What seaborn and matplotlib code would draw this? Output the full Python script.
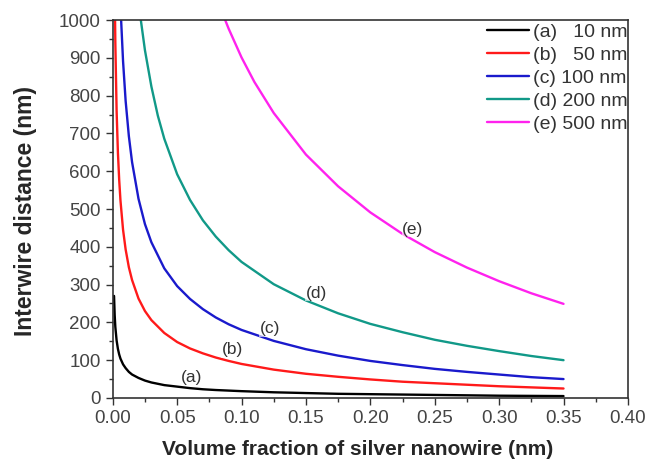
import matplotlib
matplotlib.use("Agg")
import matplotlib.pyplot as plt
from matplotlib.ticker import MultipleLocator
import seaborn as sns
import pandas as pd

# values (nm vs volume fraction)
x_a = [0.001, 0.0015, 0.002, 0.003, 0.004, 0.005, 0.006, 0.008, 0.01, 0.0125, 0.015, 0.02,
       0.025, 0.03, 0.04, 0.05, 0.06, 0.07, 0.08, 0.09, 0.1, 0.125, 0.15, 0.175, 0.2,
       0.225, 0.25, 0.275, 0.3, 0.325, 0.35]
y_a = [270, 219, 188, 152, 130, 115, 104, 89, 79, 69, 62, 53,
       46, 41, 34, 30, 26, 23, 21, 19.5, 18, 15, 13, 11, 10,
       9, 8, 7, 6, 5.5, 5]

x_b = [0.0018, 0.002, 0.003, 0.004, 0.005, 0.006, 0.008, 0.01, 0.0125, 0.015, 0.02,
       0.025, 0.03, 0.04, 0.05, 0.06, 0.07, 0.08, 0.09, 0.1, 0.125, 0.15, 0.175, 0.2,
       0.225, 0.25, 0.275, 0.3, 0.325, 0.35]
y_b = [1000, 941, 759, 650, 577, 522, 445, 393, 346, 312, 263,
       230, 206, 172, 148, 131, 118, 107, 98, 90, 75, 64, 56, 49,
       43, 39, 35, 31, 28, 25]

x_c = [0.0065, 0.008, 0.01, 0.0125, 0.015, 0.02, 0.025, 0.03, 0.04, 0.05, 0.06, 0.07,
       0.08, 0.09, 0.1, 0.125, 0.15, 0.175, 0.2, 0.225, 0.25, 0.275, 0.3, 0.325, 0.35]
y_c = [1000, 891, 786, 693, 624, 527, 460, 412, 343, 296, 262, 235,
       213, 195, 180, 151, 129, 112, 98, 87, 77, 69, 62, 55, 50]

x_d = [0.0218, 0.025, 0.03, 0.035, 0.04, 0.05, 0.06, 0.07, 0.08, 0.09, 0.1, 0.125,
       0.15, 0.175, 0.2, 0.225, 0.25, 0.275, 0.3, 0.325, 0.35]
y_d = [1000, 920, 824, 747, 686, 592, 524, 470, 427, 391, 360, 301,
       258, 224, 196, 174, 154, 138, 124, 111, 100]

x_e = [0.0873, 0.09, 0.1, 0.11, 0.125, 0.15, 0.175, 0.2, 0.225, 0.25, 0.275, 0.3, 0.325, 0.35]
y_e = [1000, 977, 901, 836, 754, 644, 560, 491, 434, 386, 345, 309, 277, 249]

labels = ["(a)   10 nm", "(b)   50 nm", "(c) 100 nm", "(d) 200 nm", "(e) 500 nm"]
tags = ["(a)", "(b)", "(c)", "(d)", "(e)"]
colors = ["#000000", "#ff1a1a", "#1a1acc", "#119988", "#ff22ee"]
tag_x = [0.061, 0.093, 0.122, 0.158, 0.233]
tag_y = [55, 127, 183, 277, 447]

sns.set_style("ticks")
plt.rcParams["font.family"] = ["Liberation Sans", "DejaVu Sans"]

fig = plt.figure(figsize=(6.48, 4.66), dpi=100)
ax = fig.add_axes([0.174, 0.146, 0.795, 0.811])

series = [(x_a, y_a), (x_b, y_b), (x_c, y_c), (x_d, y_d), (x_e, y_e)]
for i, (xs, ys) in enumerate(series):
    df = pd.DataFrame({"x": xs, "y": ys})
    sns.lineplot(data=df, x="x", y="y", ax=ax, color=colors[i], linewidth=1.7,
                 label=labels[i], sort=True)

for i in range(5):
    ax.text(tag_x[i], tag_y[i], tags[i], ha="center", va="center", fontsize=12.5,
            color="#333333", bbox=dict(facecolor="white", edgecolor="none", pad=0.5, alpha=0.6))

ax.set_xlim(0, 0.40)
ax.set_ylim(0, 1000)
ax.xaxis.set_major_locator(MultipleLocator(0.05))
ax.xaxis.set_minor_locator(MultipleLocator(0.025))
ax.yaxis.set_major_locator(MultipleLocator(100))
ax.yaxis.set_minor_locator(MultipleLocator(50))
ax.xaxis.set_major_formatter(matplotlib.ticker.FormatStrFormatter("%.2f"))
ax.tick_params(which="major", direction="out", length=5, width=1, labelsize=13.5,
               colors="#333333", labelcolor="#444444")
ax.tick_params(which="minor", direction="out", length=3, width=1, colors="#333333")
for sp in ax.spines.values():
    sp.set_color("#333333")
    sp.set_linewidth(1.2)

ax.set_xlabel("Volume fraction of silver nanowire (nm)", fontsize=15, fontweight="bold")
ax.set_ylabel("Interwire distance (nm)", fontsize=16.5, fontweight="bold")
ax.xaxis.set_label_coords(0.476, -0.11)
ax.yaxis.set_label_coords(-0.148, 0.495)

leg = ax.legend(loc="upper right", bbox_to_anchor=(1.0, 0.992), frameon=False, fontsize=14,
                handlelength=2.2, handletextpad=0.2, labelspacing=0.28,
                borderaxespad=0.0, borderpad=0.0)
for t in leg.get_texts():
    t.set_color("#333333")

fig.savefig("out.png", dpi=100)
